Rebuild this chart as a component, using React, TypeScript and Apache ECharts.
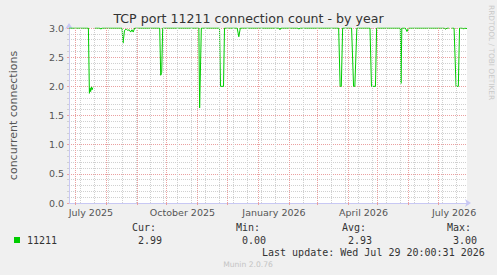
import React, { useEffect, useRef } from "react";
import * as echarts from "echarts";

const TITLE = "TCP port 11211 connection count - by year";
const Y_NAME = "concurrent connections";
const RANGE_START = "2025-06-24 20:00";
const RANGE_END = "2026-07-29 20:00";

// connection count breakpoints (null = no data)
const times = [
  "2025-06-24 20:00", "2025-07-14 08:00", "2025-07-15 08:00", "2025-07-16 00:00", "2025-07-16 14:00",
  "2025-07-17 08:00", "2025-07-18 00:00", "2025-07-18 20:00", "2025-07-19 12:00",
  "2025-07-20 20:00", "2025-07-25 20:00", "2025-07-26 20:00", "2025-07-27 20:00",
  "2025-08-17 03:00", "2025-08-18 03:00", "2025-08-19 15:00", "2025-08-21 08:00", "2025-08-22 20:00",
  "2025-08-24 08:00", "2025-08-25 20:00", "2025-08-27 03:00", "2025-08-28 08:00", "2025-08-29 20:00",
  "2025-09-24 00:00", "2025-09-25 00:00", "2025-09-26 00:00", "2025-09-27 00:00",
  "2025-11-02 08:00", "2025-11-03 03:00", "2025-11-04 20:00",
  "2025-11-23 03:00", "2025-11-24 03:00", "2025-11-27 03:00", "2025-11-28 03:00",
  "2025-12-10 20:00", "2025-12-12 12:00", "2025-12-14 00:00",
  "2026-01-21 20:00", "2026-01-22 20:00", "2026-01-23 20:00",
  "2026-02-09 20:00", "2026-02-10 20:00", "2026-02-11 20:00",
  "2026-03-22 20:00", "2026-03-24 08:00", "2026-03-25 12:00", "2026-03-26 20:00",
  "2026-04-04 20:00", "2026-04-06 20:00", "2026-04-08 03:00", "2026-04-10 03:00",
  "2026-04-23 08:00", "2026-04-24 20:00", "2026-04-28 20:00", "2026-04-30 00:00",
  "2026-05-23 20:00", "2026-05-24 12:00", "2026-05-25 08:00",
  "2026-05-28 20:00", "2026-05-30 12:00", "2026-06-01 03:00",
  "2026-07-06 20:00", "2026-07-08 08:00", "2026-07-09 20:00", "2026-07-11 20:00", "2026-07-12 20:00",
  "2026-07-14 08:00", "2026-07-16 20:00", "2026-07-18 20:00", "2026-07-21 03:00", "2026-07-22 08:00",
  "2026-07-25 08:00", "2026-07-26 08:00", "2026-07-27 08:00", "2026-07-29 20:00",
];
const counts: (number | null)[] = [
  3.0, 3.0, 1.88, 1.97, 1.91,
  1.99, 1.94, 1.98, null,
  3.0, 3.0, 2.98, 3.0,
  3.0, 2.74, 2.96, 2.98, 2.96,
  2.97, 2.93, 2.97, 2.93, 3.0,
  3.0, 2.19, 2.24, 3.0,
  3.0, 1.63, 3.0,
  3.0, 2.0, 2.0, 3.0,
  3.0, 2.85, 3.0,
  3.0, 2.97, 3.0,
  3.0, 2.98, 3.0,
  3.0, 2.0, 2.0, 3.0,
  3.0, 2.0, 2.0, 3.0,
  3.0, 2.0, 2.0, 3.0,
  3.0, 2.05, 3.0,
  3.0, 2.94, 3.0,
  3.0, 2.98, 3.0, 3.0, null,
  3.0, 3.0, 2.0, 2.0, 3.0,
  3.0, 2.98, 3.0, 2.99,
];

const monthStarts = [
  "2025-07-01", "2025-08-01", "2025-09-01", "2025-10-01", "2025-11-01", "2025-12-01",
  "2026-01-01", "2026-02-01", "2026-03-01", "2026-04-01", "2026-05-01", "2026-06-01", "2026-07-01",
];
const minorGridFirst = "2025-07-06";
const xLabels = ["July 2025", "October 2025", "January 2026", "April 2026", "July 2026"];
const xLabelAt = ["2025-07-16 20:00", "2025-10-16 20:00", "2026-01-16 20:00", "2026-04-16 20:00", "2026-07-16 20:00"];

const legendName = "11211";
const statHeads = ["Cur:", "Min:", "Avg:", "Max:"];
const statValues = ["2.99", "0.00", "2.93", "3.00"];
const lastUpdate = "Last update: Wed Jul 29 20:00:31 2026";
const footer = "Munin 2.0.76";
const watermark = "RRDTOOL / TOBI OETIKER";

const ts = (s: string) => Date.parse((s.length === 10 ? s + " 00:00" : s).replace(" ", "T") + ":00Z");

const RED = "#eaa0a0";
const GRAY = "#d0d0d0";
const AXIS = "#c8c8f4";

export default function App() {
  const ref = useRef<HTMLDivElement>(null);
  useEffect(() => {
    if (!ref.current) return;
    const chart = echarts.init(ref.current, undefined, { renderer: "svg" });
    const xMin = ts(RANGE_START);
    const xMax = ts(RANGE_END);
    const majors = monthStarts.map(ts);
    const minors: number[] = [];
    for (let t = ts(minorGridFirst); t < xMax; t += 14 * 86400000) minors.push(t);
    const labelTs = xLabelAt.map(ts);
    const statX = [132, 236, 342, 447];
    const valX = [138, 242, 348, 453];
    const mono = "DejaVu Sans Mono";
    const graphic: any[] = [
      { type: "rect", shape: { x: 14, y: 237, width: 6, height: 6 }, style: { fill: "#00cc00" } },
      { type: "text", x: 27, y: 240, style: { text: legendName, font: `10px '${mono}'`, fill: "#333", textVerticalAlign: "middle" } },
      ...statHeads.map((h, i) => ({ type: "text", x: statX[i], y: 227, style: { text: h, font: `10px '${mono}'`, fill: "#333", textVerticalAlign: "middle" } })),
      ...statValues.map((v, i) => ({ type: "text", x: valX[i], y: 240, style: { text: v, font: `10px '${mono}'`, fill: "#333", textVerticalAlign: "middle" } })),
      { type: "text", x: 262, y: 252, style: { text: lastUpdate, font: `10px '${mono}'`, fill: "#333", textVerticalAlign: "middle" } },
      { type: "text", x: 248, y: 264, style: { text: footer, font: "7.6px 'DejaVu Sans'", fill: "#c4c4c4", textAlign: "center", textVerticalAlign: "middle" } },
      { type: "text", x: 491, y: 5, rotation: -Math.PI / 2, style: { text: watermark, font: "7.4px 'DejaVu Sans'", fill: "#c8c8c8", textAlign: "left", textVerticalAlign: "middle" } },
    ];
    chart.setOption({
      animation: false,
      backgroundColor: "#f0f0f0",
      title: {
        text: TITLE,
        left: "center",
        top: 12,
        padding: 0,
        textStyle: { fontFamily: "DejaVu Sans", fontSize: 12.6, fontWeight: "normal", color: "#333" },
      },
      grid: { left: 66, right: 30, top: 28, bottom: 72, show: true, backgroundColor: "#ffffff", borderWidth: 0 },
      xAxis: {
        type: "value",
        min: xMin,
        max: xMax,
        axisLine: { show: true, onZero: false, lineStyle: { color: AXIS }, symbol: ["none", "arrow"], symbolSize: [6, 6], symbolOffset: [0, 4] },
        axisTick: { show: true, customValues: majors, length: 2, lineStyle: { color: RED } },
        axisLabel: {
          customValues: labelTs,
          margin: 4,
          fontFamily: "DejaVu Sans",
          fontSize: 9.5,
          color: "#555",
          formatter: (v: number) => {
            let best = 0;
            labelTs.forEach((t, i) => { if (Math.abs(t - v) < Math.abs(labelTs[best] - v)) best = i; });
            return xLabels[best];
          },
        },
        splitLine: { show: false },
      },
      yAxis: {
        type: "value",
        min: 0,
        max: 3,
        interval: 0.5,
        name: Y_NAME,
        nameLocation: "middle",
        nameGap: 50,
        nameTextStyle: { fontFamily: "DejaVu Sans", fontSize: 11, color: "#555" },
        axisLine: { show: true, onZero: false, lineStyle: { color: AXIS }, symbol: ["none", "arrow"], symbolSize: [6, 6], symbolOffset: [0, 5] },
        axisTick: { show: true, length: 2, lineStyle: { color: RED } },
        minorTick: { show: true, splitNumber: 5, length: 2, lineStyle: { color: GRAY } },
        axisLabel: { fontFamily: "DejaVu Sans", fontSize: 9.5, color: "#555", margin: 5, formatter: (v: number) => v.toFixed(1) },
        splitLine: { show: true, lineStyle: { color: RED, type: [1, 1], width: 1 } },
        minorSplitLine: { show: true, lineStyle: { color: GRAY, type: [1, 1], width: 1 } },
      },
      series: [
        {
          type: "line",
          data: [],
          silent: true,
          z: 1,
          markLine: {
            silent: true,
            symbol: ["none", "none"],
            label: { show: false },
            animation: false,
            data: [
              ...minors.map((t) => ({ xAxis: t, lineStyle: { color: GRAY, type: [1, 1], width: 1 } })),
              ...majors.map((t) => ({ xAxis: t, lineStyle: { color: RED, type: [1, 1], width: 1 } })),
            ],
          },
        },
        {
          type: "line",
          z: 3,
          showSymbol: false,
          connectNulls: false,
          lineStyle: { color: "#00cc00", width: 1 },
          itemStyle: { color: "#00cc00" },
          data: times.map((t, i) => [ts(t), counts[i]]),
        },
      ],
      graphic,
    });
    return () => chart.dispose();
  }, []);
  return <div ref={ref} style={{ width: 497, height: 275, position: "absolute", left: 0, top: 0 }} />;
}
